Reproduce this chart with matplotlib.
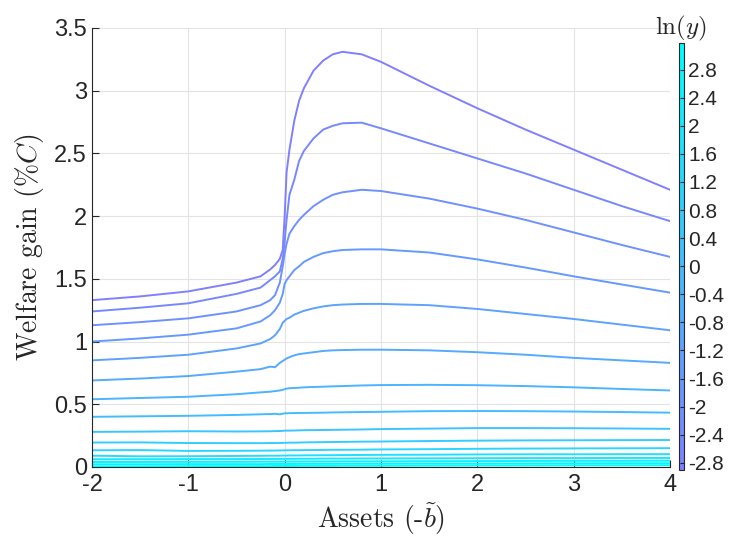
import numpy as np
import matplotlib
matplotlib.use("Agg")
import matplotlib.pyplot as plt
from matplotlib.colors import ListedColormap, Normalize
from matplotlib.cm import ScalarMappable

plt.rcParams['font.family'] = ['Liberation Sans', 'DejaVu Sans']
plt.rcParams['mathtext.fontset'] = 'cm'

# asset grid (-b tilde)
assets = [-2, -1.5, -1, -0.5, -0.25, -0.15, -0.1, -0.05, -0.02, 0, 0.02, 0.05,
          0.1, 0.15, 0.2, 0.3, 0.4, 0.5, 0.6, 0.8, 1, 1.5, 2, 2.5, 3, 3.5, 4]

# ln(y) of each income state, lowest first
lny = [-2.9, -2.49, -2.09, -1.68, -1.28, -0.87, -0.47, -0.06,
       0.34, 0.75, 1.15, 1.56, 1.96, 2.37, 2.77, 3.18]

# welfare gain (% of consumption), one row per income state
gain = [
    [1.33, 1.36, 1.40, 1.47, 1.52, 1.575, 1.61, 1.66, 1.73, 2.0, 2.35, 2.53,
     2.76, 2.92, 3.02, 3.16, 3.24, 3.29, 3.31, 3.29, 3.23, 3.04, 2.86, 2.69, 2.53, 2.37, 2.21],
    [1.24, 1.27, 1.305, 1.38, 1.43, 1.49, 1.52, 1.56, 1.66, 1.80, 1.97, 2.17,
     2.29, 2.44, 2.52, 2.62, 2.69, 2.72, 2.74, 2.745, 2.70, 2.58, 2.46, 2.34, 2.21, 2.08, 1.96],
    [1.13, 1.155, 1.185, 1.24, 1.29, 1.33, 1.37, 1.47, 1.60, 1.70, 1.78, 1.86,
     1.92, 1.97, 2.01, 2.08, 2.13, 2.17, 2.19, 2.21, 2.20, 2.14, 2.06, 1.97, 1.87, 1.77, 1.675],
    [1.0, 1.025, 1.055, 1.105, 1.16, 1.21, 1.25, 1.31, 1.38, 1.46, 1.49, 1.52,
     1.57, 1.60, 1.635, 1.675, 1.705, 1.72, 1.73, 1.735, 1.735, 1.71, 1.655, 1.59, 1.52, 1.455, 1.39],
    [0.85, 0.87, 0.895, 0.945, 0.985, 1.02, 1.05, 1.10, 1.15, 1.165, 1.18, 1.19,
     1.215, 1.23, 1.245, 1.265, 1.28, 1.29, 1.295, 1.30, 1.30, 1.29, 1.26, 1.22, 1.18, 1.135, 1.09],
    [0.69, 0.705, 0.725, 0.76, 0.78, 0.80, 0.795, 0.83, 0.845, 0.855, 0.865, 0.875,
     0.89, 0.90, 0.905, 0.915, 0.925, 0.93, 0.932, 0.935, 0.935, 0.93, 0.915, 0.895, 0.87, 0.85, 0.83],
    [0.54, 0.55, 0.56, 0.58, 0.595, 0.60, 0.605, 0.61, 0.615, 0.62, 0.625, 0.628,
     0.63, 0.632, 0.635, 0.638, 0.64, 0.643, 0.645, 0.65, 0.653, 0.655, 0.652, 0.645, 0.635, 0.622, 0.61],
    [0.40, 0.404, 0.408, 0.415, 0.42, 0.422, 0.424, 0.42, 0.425, 0.428, 0.428, 0.429,
     0.43, 0.431, 0.431, 0.432, 0.433, 0.435, 0.436, 0.438, 0.44, 0.445, 0.446, 0.445, 0.442, 0.438, 0.433],
    [0.28, 0.282, 0.285, 0.283, 0.284, 0.285, 0.286, 0.287, 0.288, 0.29, 0.29, 0.29,
     0.291, 0.292, 0.293, 0.294, 0.295, 0.296, 0.297, 0.299, 0.302, 0.306, 0.31, 0.31, 0.309, 0.307, 0.304],
    [0.195, 0.196, 0.191, 0.19, 0.19, 0.191, 0.191, 0.192, 0.192, 0.193, 0.193, 0.194,
     0.194, 0.195, 0.196, 0.197, 0.198, 0.199, 0.2, 0.202, 0.203, 0.207, 0.21, 0.212, 0.213, 0.214, 0.215],
    [0.133, 0.135, 0.128, 0.129, 0.13, 0.131, 0.131, 0.132, 0.132, 0.133, 0.133, 0.133,
     0.134, 0.134, 0.135, 0.135, 0.136, 0.137, 0.137, 0.138, 0.14, 0.142, 0.145, 0.147, 0.148, 0.149, 0.15],
    [0.09, 0.085, 0.086, 0.088, 0.089, 0.09, 0.09, 0.09, 0.091, 0.091, 0.091, 0.092,
     0.092, 0.092, 0.093, 0.093, 0.094, 0.094, 0.095, 0.096, 0.097, 0.098, 0.1, 0.101, 0.101, 0.102, 0.102],
    [0.062, 0.062, 0.063, 0.063, 0.064, 0.064, 0.064, 0.064, 0.065, 0.065, 0.065, 0.065,
     0.065, 0.066, 0.066, 0.066, 0.067, 0.067, 0.067, 0.068, 0.068, 0.069, 0.07, 0.071, 0.071, 0.072, 0.072],
    [0.04, 0.04, 0.041, 0.041, 0.042, 0.042, 0.042, 0.042, 0.042, 0.043, 0.043, 0.043,
     0.043, 0.043, 0.044, 0.044, 0.044, 0.044, 0.045, 0.045, 0.045, 0.046, 0.047, 0.048, 0.049, 0.049, 0.05],
    [0.022, 0.022, 0.023, 0.023, 0.023, 0.024, 0.024, 0.024, 0.024, 0.024, 0.024, 0.024,
     0.024, 0.025, 0.025, 0.025, 0.025, 0.025, 0.026, 0.026, 0.026, 0.027, 0.027, 0.028, 0.029, 0.03, 0.03],
    [0.006, 0.006, 0.007, 0.007, 0.007, 0.007, 0.008, 0.008, 0.008, 0.008, 0.008, 0.008,
     0.008, 0.009, 0.009, 0.009, 0.009, 0.009, 0.01, 0.01, 0.01, 0.011, 0.012, 0.012, 0.013, 0.013, 0.014],
]

# purple (low income) -> cyan (high income), i.e. the blue half of "cool"
cmap = ListedColormap(plt.cm.cool(np.linspace(0.5, 0.0, 256)))
norm = Normalize(vmin=min(lny), vmax=max(lny))

fig = plt.figure(figsize=(7.3, 5.42), dpi=100)
ax = fig.add_axes([0.126, 0.1384, 0.7918, 0.81])

for z, g in zip(lny, gain):
    ax.plot(assets, g, color=cmap(norm(z)), lw=1.4)

ax.set_xlim(-2, 4)
ax.set_ylim(0, 3.5)
ax.set_xticks([-2, -1, 0, 1, 2, 3, 4])
ax.set_yticks([0, 0.5, 1, 1.5, 2, 2.5, 3, 3.5])
ax.set_xticklabels(['-2', '-1', '0', '1', '2', '3', '4'])
ax.set_yticklabels(['0', '0.5', '1', '1.5', '2', '2.5', '3', '3.5'])
ax.grid(True, color='#e3e3e3', lw=0.8)
ax.set_axisbelow(True)
for s in ['top', 'right']:
    ax.spines[s].set_visible(False)
for s in ['left', 'bottom']:
    ax.spines[s].set_color('#262626')
    ax.spines[s].set_linewidth(0.8)
ax.tick_params(direction='in', length=5, width=0.8, color='#262626',
               labelsize=17, labelcolor='#262626')
ax.tick_params(axis='x', pad=5)

ax.set_xlabel('Assets (-$\\tilde{b}$)', family='cmr10', fontsize=20, color='#262626',
              labelpad=4)
ax.set_ylabel('Welfare gain (%$C$)', family='cmr10', fontsize=20, color='#262626',
              labelpad=6)

cax = fig.add_axes([0.930, 0.133, 0.0068, 0.788])
cb = fig.colorbar(ScalarMappable(norm=norm, cmap=cmap), cax=cax)
cb.set_ticks([-2.8, -2.4, -2, -1.6, -1.2, -0.8, -0.4, 0, 0.4, 0.8, 1.2, 1.6, 2, 2.4, 2.8])
cb.set_ticklabels(['-2.8', '-2.4', '-2', '-1.6', '-1.2', '-0.8', '-0.4', '0',
                   '0.4', '0.8', '1.2', '1.6', '2', '2.4', '2.8'])
cb.outline.set_edgecolor('#262626')
cb.outline.set_linewidth(0.8)
cax.tick_params(direction='in', length=3, width=0.8, color='#262626',
                labelsize=15, labelcolor='#262626', pad=3)
cax.set_title('$\\ln(y)$', fontsize=18, color='#262626', pad=3)

fig.savefig('out.png', dpi=100)
